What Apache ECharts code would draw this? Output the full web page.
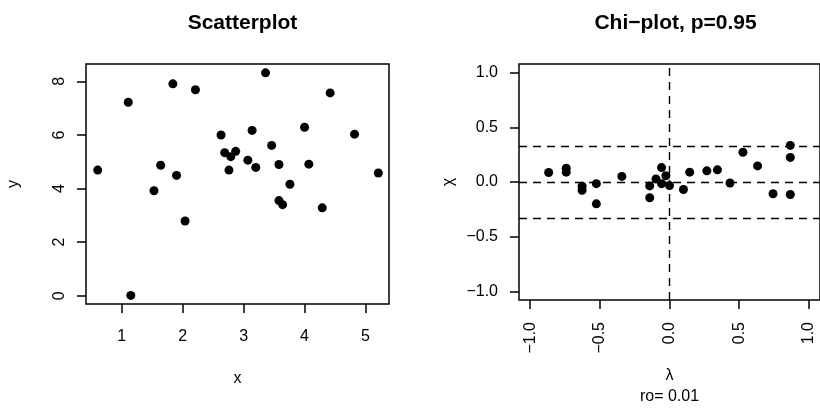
<!DOCTYPE html>
<html>
<head>
<meta charset="utf-8">
<script src="https://cdn.jsdelivr.net/npm/echarts@6/dist/echarts.min.js"></script>
<style>
  html, body { margin: 0; padding: 0; background: #fff; }
  #chart { width: 820px; height: 412px; }
</style>
</head>
<body>
<div id="chart"></div>
<script>
// ---- Data ----
const scatterX = [0.607, 1.108, 1.15, 1.84, 2.21, 1.64, 1.53, 1.90, 2.04, 2.63, 2.69, 2.79, 2.87, 2.76, 3.07, 3.14, 3.20, 3.36, 3.46, 3.58, 3.58, 3.64, 3.76, 4.00, 4.07, 4.29, 4.42, 4.82, 5.21];
const scatterY = [4.69, 7.22, 0.01, 7.91, 7.69, 4.87, 3.92, 4.49, 2.79, 6.00, 5.34, 5.19, 5.39, 4.69, 5.06, 6.17, 4.79, 8.32, 5.61, 4.90, 3.55, 3.40, 4.16, 6.29, 4.91, 3.28, 7.57, 6.03, 4.58];

const chiLambda = [-0.867, -0.741, -0.741, -0.627, -0.627, -0.525, -0.525, -0.342, -0.142, -0.142, -0.097, -0.057, -0.057, -0.026, 0.000, 0.100, 0.145, 0.268, 0.344, 0.434, 0.527, 0.632, 0.743, 0.867, 0.867, 0.867];
const chiChi    = [0.087, 0.126, 0.090, -0.039, -0.075, -0.015, -0.200, 0.051, -0.036, -0.144, 0.027, 0.132, -0.015, 0.057, -0.033, -0.069, 0.090, 0.102, 0.111, -0.009, 0.272, 0.147, -0.108, 0.335, 0.225, -0.114];

const controlLimit = 0.325;   // 1.78/sqrt(n)
const refLinesY = [controlLimit, 0, -controlLimit];
const refLinesX = [0];

const leftXTicks = [1, 2, 3, 4, 5];
const leftYTicks = [0, 2, 4, 6, 8];
const rightXTicks = [-1, -0.5, 0, 0.5, 1];
const rightYTicks = [-1, -0.5, 0, 0.5, 1];

const titleLeft = 'Scatterplot';
const titleRight = 'Chi\u2212plot, p=0.95';
const rhoText = 'ro= 0.01';

// ---- Chart ----
const FONT = 'Liberation Sans, Arial, Helvetica, sans-serif';
const fmt1 = v => v.toFixed(1).replace('-', '\u2212');
const fmt0 = v => String(v);

const tickStyle = { show: true, length: 9, inside: false, lineStyle: { color: '#000', width: 1.5 } };
const labelBase = { color: '#000', fontSize: 16, fontFamily: FONT };
const noLine = { show: false, onZero: false };

const chart = echarts.init(document.getElementById('chart'), null, { renderer: 'canvas' });

chart.setOption({
  animation: false,
  backgroundColor: '#fff',
  title: [
    { text: titleLeft, left: 237.5, top: 8, textAlign: 'center',
      textStyle: { fontSize: 21, fontWeight: 'bold', color: '#000', fontFamily: FONT } },
    { text: titleRight, left: 670.5, top: 8, textAlign: 'center',
      textStyle: { fontSize: 21, fontWeight: 'bold', color: '#000', fontFamily: FONT } }
  ],
  grid: [
    { left: 86, top: 64, width: 303, height: 240, show: true, borderColor: '#000', borderWidth: 1.5, backgroundColor: 'transparent', containLabel: false },
    { left: 519, top: 64, width: 303, height: 240, show: true, borderColor: '#000', borderWidth: 1.5, backgroundColor: 'transparent', containLabel: false }
  ],
  xAxis: [
    { type: 'value', gridIndex: 0, min: 0.415, max: 5.385,
      axisLine: noLine, splitLine: { show: false },
      axisTick: Object.assign({}, tickStyle, { customValues: leftXTicks }),
      axisLabel: Object.assign({}, labelBase, { customValues: leftXTicks, margin: 25, formatter: fmt0 }),
      name: 'x', nameLocation: 'middle', nameGap: 67,
      nameTextStyle: { color: '#000', fontSize: 16, fontFamily: FONT } },
    { type: 'value', gridIndex: 1, min: -1.08, max: 1.08,
      axisLine: noLine, splitLine: { show: false },
      axisTick: Object.assign({}, tickStyle, { customValues: rightXTicks }),
      axisLabel: Object.assign({}, labelBase, { customValues: rightXTicks, margin: 22, rotate: 90, formatter: fmt1 }),
      name: '\u03bb\n' + rhoText, nameLocation: 'middle', nameGap: 65,
      nameTextStyle: { color: '#000', fontSize: 16, lineHeight: 21, fontFamily: FONT } }
  ],
  yAxis: [
    { type: 'value', gridIndex: 0, min: -0.31, max: 8.65,
      axisLine: noLine, splitLine: { show: false },
      axisTick: Object.assign({}, tickStyle, { customValues: leftYTicks }),
      axisLabel: Object.assign({}, labelBase, { customValues: leftYTicks, margin: 18, rotate: 90, formatter: fmt0 }),
      name: 'y', nameLocation: 'middle', nameGap: 64,
      nameTextStyle: { color: '#000', fontSize: 16, fontFamily: FONT } },
    { type: 'value', gridIndex: 1, min: -1.08, max: 1.08,
      axisLine: noLine, splitLine: { show: false },
      axisTick: Object.assign({}, tickStyle, { customValues: rightYTicks }),
      axisLabel: Object.assign({}, labelBase, { customValues: rightYTicks, margin: 21, formatter: fmt1 }),
      name: '\u03c7', nameLocation: 'middle', nameGap: 62,
      nameTextStyle: { color: '#000', fontSize: 16, fontFamily: FONT } }
  ],
  series: [
    { type: 'scatter', xAxisIndex: 0, yAxisIndex: 0, symbol: 'circle', symbolSize: 9,
      itemStyle: { color: '#000', opacity: 1 },
      data: scatterX.map((x, i) => [x, scatterY[i]]) },
    { type: 'scatter', xAxisIndex: 1, yAxisIndex: 1, symbol: 'circle', symbolSize: 9,
      itemStyle: { color: '#000', opacity: 1 },
      data: chiLambda.map((x, i) => [x, chiChi[i]]),
      markLine: {
        silent: true, symbol: ['none', 'none'], label: { show: false },
        lineStyle: { color: '#000', type: [8, 6], width: 1.4 },
        emphasis: { disabled: true },
        data: refLinesY.map(v => ({ yAxis: v })).concat(refLinesX.map(v => ({ xAxis: v })))
      } }
  ]
});
</script>
</body>
</html>
